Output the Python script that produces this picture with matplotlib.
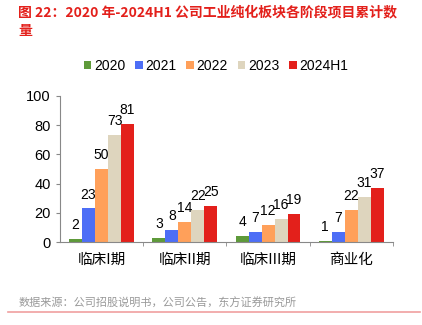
import numpy as np
import matplotlib.pyplot as plt

plt.rcParams['font.family'] = ['Noto Sans CJK SC', 'DejaVu Sans']

# data
categories = ['临床I期', '临床II期', '临床III期', '商业化']
series_names = ['2020', '2021', '2022', '2023', '2024H1']
v2020 = [2, 3, 4, 1]
v2021 = [23, 8, 7, 7]
v2022 = [50, 14, 12, 22]
v2023 = [73, 22, 16, 31]
v2024 = [81, 25, 19, 37]
colors = ['#5E9A3A', '#4D6EF6', '#FFA05A', '#DED5BE', '#E3201B']
num_font = 'Liberation Sans'

fig = plt.figure(figsize=(4.22, 3.25), dpi=100)
ax = fig.add_axes([0.142, 0.255, 0.789, 0.45])

x = np.arange(len(categories))
w = 0.156
all_vals = [v2020, v2021, v2022, v2023, v2024]
for i, (vals, name, c) in enumerate(zip(all_vals, series_names, colors)):
    pos = x + (i - 2) * w
    bars = ax.bar(pos, vals, width=w, color=c, label=name)
    for b, v in zip(bars, vals):
        ax.annotate(str(v), (b.get_x() + b.get_width() / 2, v), xytext=(0, 5),
                    textcoords='offset points', ha='center', va='bottom',
                    fontsize=10, family=num_font)

ax.set_xlim(-0.5, 3.5)
ax.set_ylim(0, 100)
ax.set_yticks([0, 20, 40, 60, 80, 100])
ax.tick_params(axis='y', labelsize=10.5, length=3, color='#888888')
ax.set_xticks(x)
ax.set_xticklabels(categories, fontsize=10.5)
ax.tick_params(axis='x', length=0, pad=8)
# category boundary ticks
ax.set_xticks([0.5, 1.5, 2.5, 3.5], minor=True)
ax.tick_params(axis='x', which='minor', length=3, color='#888888')
for lab in ax.get_yticklabels():
    lab.set_family(num_font)
for s in ['top', 'right']:
    ax.spines[s].set_visible(False)
ax.spines['left'].set_color('#888888')
ax.spines['bottom'].set_color('#888888')

fig.legend(loc='center', bbox_to_anchor=(0.512, 0.797), ncol=5, frameon=False,
           handlelength=0.55, handleheight=0.55, handletextpad=0.2,
           columnspacing=0.7, prop={'family': num_font, 'size': 10})

fig.text(0.043, 0.985, '图 22：2020 年-2024H1 公司工业纯化板块各阶段项目累计数\n量',
         color='#E3201B', fontsize=10, fontweight='bold', va='top', ha='left',
         linespacing=1.5)
fig.text(0.043, 0.068, '数据来源：公司招股说明书，公司公告，东方证券研究所',
         color='#999999', fontsize=8, va='center', ha='left')
fig.add_artist(plt.Line2D([0.02, 0.995], [0.04, 0.04], color='#F0A0A0', lw=1.2))

fig.savefig('out.png', dpi=100)
